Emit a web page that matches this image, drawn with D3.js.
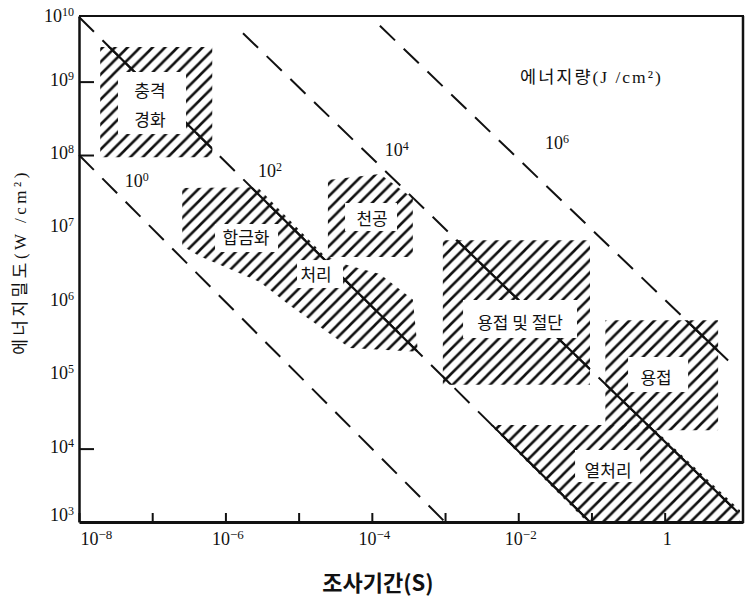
<!DOCTYPE html>
<html><head><meta charset="utf-8">
<script src="https://cdn.jsdelivr.net/npm/d3@7"></script>
<style>body{margin:0;background:#fff}</style>
</head><body><svg id="c" width="754" height="596"></svg>
<script>
// ---- data (all values as log10 exponents) ----
const xTickExps = [-8,-7,-6,-5,-4,-3,-2,-1,0];
const xLabelExps = [-8,-6,-4,-2,0];
const yTickExps = [3,4,5,6,7,8,9,10];
const yLongTickExps = [4,8,9];
// constant-energy lines (J/cm^2): label exponent + endpoints [log t, log P]
const energyExps = ["0","2","4","6"];
const energyLines = [
  [[-8.0,8.0],[-3.0,3.0]],
  [[-8.0,9.88],[-1.02,3.0]],
  [[-5.76,9.66],[0.99,3.14]],
  [[-3.89,9.76],[0.96,5.11]]
];
const energyLabelAt = [[-7.21,7.65],[-5.39,7.78],[-3.66,8.07],[-1.47,8.16]];
// process regions: polygons in [log t, log P]
const regionShapes = [
  [[-7.71,9.47],[-6.18,9.47],[-6.18,7.97],[-7.71,7.97]],
  [[-6.59,7.55],[-5.56,7.56],[-4.67,6.65],[-4.34,6.50],[-3.89,6.38],[-3.44,6.03],[-3.37,5.32],[-4.30,5.37],[-5.12,5.95],[-5.53,6.27],[-6.35,6.62],[-6.59,6.76]],
  [[-4.60,7.66],[-3.89,7.74],[-3.44,7.41],[-3.44,6.61],[-4.60,6.61]],
  [[-3.03,6.84],[-1.02,6.84],[-1.02,4.87],[-3.03,4.87]],
  [[-0.81,5.75],[0.73,5.75],[0.73,4.25],[-0.81,4.25]],
  [[-2.38,4.32],[-0.20,4.32],[1.03,3.16],[1.03,3.01],[-1.07,3.01]]
];
// un-hatched label boxes: [t0, t1, P0, P1]
const cutouts = [
  [-7.467,-6.538,8.286,9.131],
  [-6.142,-5.281,6.678,7.060],
  [-5.022,-4.393,6.188,6.569],
  [-4.366,-3.656,6.965,7.346],
  [-2.754,-1.197,5.507,6.025],
  [-0.500,0.320,4.771,5.248],
  [-1.224,-0.336,3.545,3.981]
];
const regionLabels = ["충격","경화","합금화","처리","천공","용접 및 절단","용접","열처리"];
const regionLabelAt = [[-7.03,8.886],[-7.03,8.504],[-5.719,6.883],[-4.762,6.379],[-3.997,7.155],[-1.975,5.725],[-0.117,4.989],[-0.773,3.722]];
const legendTitle = "에너지량(J /cm²)";
const legendAt = [-1.975,9.063];
const xTitle = "조사기간(S)";
const yTitle = "에너지밀도(W /cm²)";

// ---- drawing ----
const svg = d3.select("#c");
const P = v => Math.pow(10, v);
const x = d3.scaleLog().domain([1e-8, P(1.07)]).range([79, 743]);
const y = d3.scaleLog().domain([1e3, P(9.894)]).range([522, 16]).clamp(true);
const X = e => x(P(e)), Y = e => y(P(e));
const serif = "'Liberation Serif','Noto Sans CJK KR',serif";
const ink = "#111";

const defs = svg.append("defs");
defs.append("pattern").attr("id","hatch").attr("patternUnits","userSpaceOnUse")
  .attr("width",12.5).attr("height",12.5)
  .append("path").attr("d","M-3,3 L3,-3 M0,12.5 L12.5,0 M9.5,15.5 L15.5,9.5")
  .attr("stroke",ink).attr("stroke-width",2.6).attr("fill","none");
const clip = defs.append("clipPath").attr("id","regclip");
const line = d3.line().x(d => X(d[0])).y(d => Y(d[1]));
regionShapes.forEach(s => clip.append("path").attr("d", line(s) + "Z"));

// hatched regions
svg.append("g").selectAll("path").data(regionShapes).join("path")
  .attr("d", d => line(d) + "Z").attr("fill","url(#hatch)").attr("stroke","none");

// energy lines: dashed everywhere, solid inside regions
svg.append("g").selectAll("path").data(energyLines).join("path")
  .attr("d", d => line(d)).attr("fill","none").attr("stroke",ink)
  .attr("stroke-width",2).attr("stroke-dasharray","21,12");
svg.append("g").attr("clip-path","url(#regclip)").selectAll("path").data(energyLines).join("path")
  .attr("d", d => line(d)).attr("fill","none").attr("stroke",ink).attr("stroke-width",2.2);

// label cut-outs
svg.append("g").selectAll("rect").data(cutouts).join("rect")
  .attr("x", d => X(d[0])).attr("width", d => X(d[1]) - X(d[0]))
  .attr("y", d => Y(d[3])).attr("height", d => Y(d[2]) - Y(d[3]))
  .attr("fill","#fff");

// region labels
svg.append("g").selectAll("text").data(regionLabels).join("text")
  .attr("x", (d,i) => X(regionLabelAt[i][0])).attr("y", (d,i) => Y(regionLabelAt[i][1]))
  .attr("text-anchor","middle").attr("dominant-baseline","central")
  .attr("font-family","'Noto Sans CJK KR',sans-serif").attr("font-size",17).attr("fill",ink)
  .text(d => d);

function sup(sel, base, exp, fb, fe){
  sel.text(null);
  sel.append("tspan").attr("font-size", fb).text(base);
  if (exp !== null) sel.append("tspan").attr("font-size", fe).attr("dy","-0.5em").text(exp);
}

// energy labels
svg.append("g").selectAll("text").data(energyExps).join("text")
  .attr("x", (d,i) => X(energyLabelAt[i][0])).attr("y", (d,i) => Y(energyLabelAt[i][1]) + 6)
  .attr("text-anchor","middle").attr("font-family",serif).attr("fill",ink)
  .each(function(d){ sup(d3.select(this), "10", d, 18, 12); });

// legend title
svg.append("text").attr("x", X(legendAt[0])).attr("y", Y(legendAt[1]) + 6)
  .attr("font-family",serif).attr("font-size",17.5).attr("letter-spacing",2).attr("fill",ink)
  .text(legendTitle);

// axes
const minus = s => s.replace("-", "\u2212");
const gx = svg.append("g").attr("transform","translate(0,522)")
  .call(d3.axisBottom(x).tickValues(xTickExps.map(P)).tickSizeInner(-9).tickSizeOuter(0).tickFormat(""));
gx.select(".domain").attr("stroke",ink).attr("stroke-width",3);
gx.selectAll(".tick line").attr("stroke",ink).attr("stroke-width",2);
gx.selectAll(".tick").each(function(d){
  const e = Math.round(Math.log10(d));
  if (!xLabelExps.includes(e)) return;
  const t = d3.select(this).select("text").attr("y",23).attr("dy",0)
    .attr("font-family",serif).attr("fill",ink);
  if (e === 0) sup(t, "1", null, 18, 12);
  else sup(t, "10", minus(String(e)), 18, 13);
  if (e === xTickExps[0]) t.attr("text-anchor","start").attr("x",1);
  else t.attr("x",2);
});

const gy = svg.append("g").attr("transform","translate(79,0)")
  .call(d3.axisLeft(y).tickValues(yTickExps.map(P)).tickSizeInner(-15).tickSizeOuter(0).tickFormat(""));
gy.select(".domain").attr("stroke",ink).attr("stroke-width",2.5);
gy.selectAll(".tick").each(function(d){
  const e = Math.round(Math.log10(d));
  const g = d3.select(this);
  g.select("line").attr("stroke",ink).attr("stroke-width",2)
    .attr("x2", yLongTickExps.includes(e) ? 15 : 0);
  const t = g.select("text").attr("x",-5).attr("dy","0.35em").attr("font-family",serif).attr("fill",ink);
  if (e === yTickExps[0]) t.attr("dy","-0.2em");
  if (e === yTickExps[yTickExps.length-1]) t.attr("dy","0.55em");
  sup(t, "10", String(e), 18, 12);
});

// frame top/right
svg.append("line").attr("x1",79).attr("x2",744).attr("y1",16).attr("y2",16).attr("stroke",ink).attr("stroke-width",2);
svg.append("line").attr("x1",743).attr("x2",743).attr("y1",16).attr("y2",523).attr("stroke",ink).attr("stroke-width",2.5);

// titles
svg.append("text").attr("x",378).attr("y",591).attr("text-anchor","middle")
  .attr("font-family","'Noto Sans CJK KR',sans-serif").attr("font-weight",700).attr("font-size",22).attr("fill",ink)
  .text(xTitle);
svg.append("text").attr("transform","translate(26,262) rotate(-90)").attr("text-anchor","middle")
  .attr("font-family",serif).attr("font-size",17).attr("letter-spacing",3.5).attr("fill",ink)
  .text(yTitle);
</script></body></html>
